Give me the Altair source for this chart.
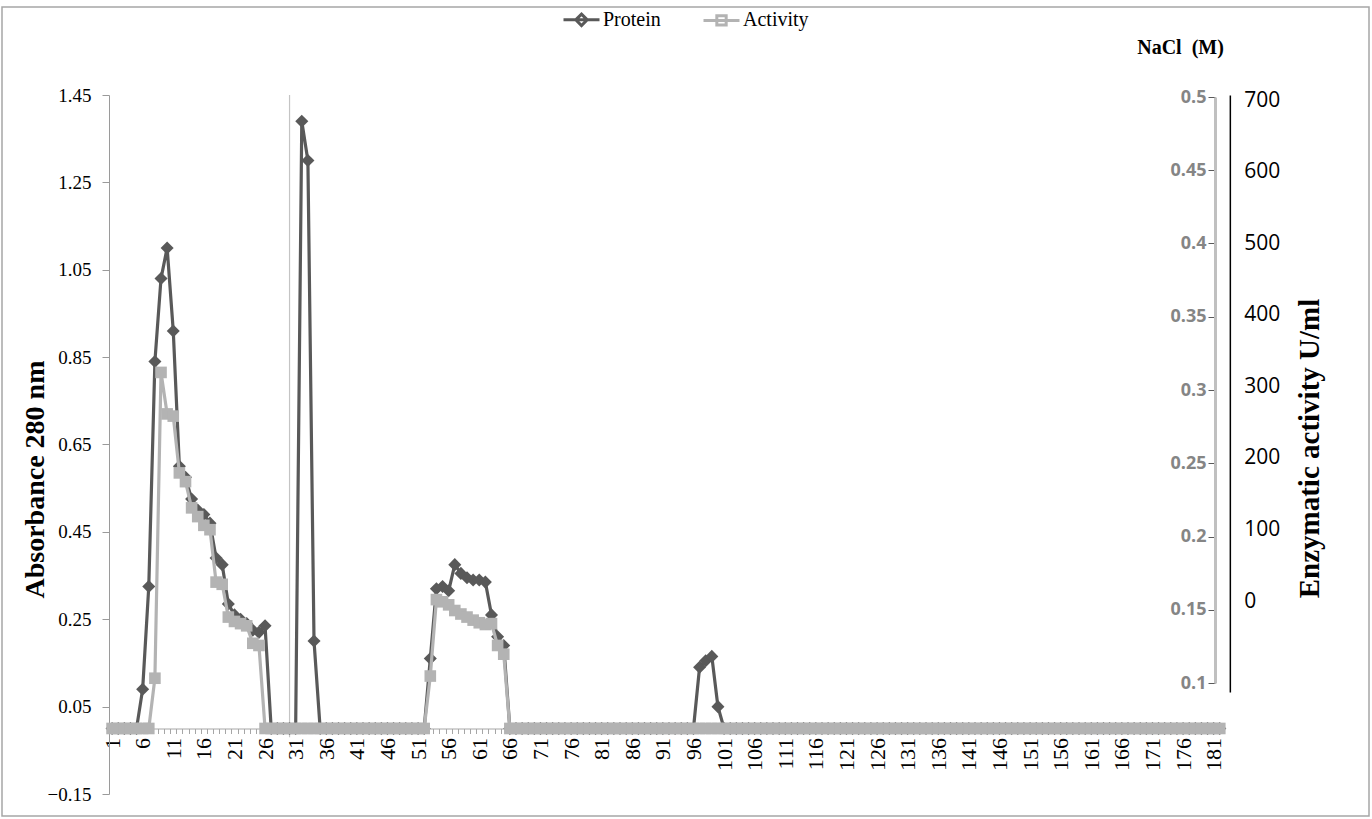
import altair as alt
import pandas as pd

# ---------------- data ----------------
N = 182
fractions = list(range(1, N + 1))
label_fractions = list(range(1, N + 1, 5))

protein = ([0] * 5
           + [0.09, 0.325, 0.84, 1.03, 1.10, 0.91, 0.60, 0.575, 0.525, 0.50, 0.49, 0.47,
              0.39, 0.375, 0.285, 0.26, 0.25, 0.24, 0.225, 0.22, 0.235]          # 6..26
           + [0] * 5                                                             # 27..31
           + [1.39, 1.30, 0.20]                                                  # 32..34
           + [0] * 18                                                            # 35..52
           + [0.16, 0.32, 0.325, 0.315, 0.375, 0.355, 0.345, 0.34, 0.34, 0.335,
              0.26, 0.21, 0.19]                                                  # 53..65
           + [0] * 31                                                            # 66..96
           + [0.14, 0.155, 0.165, 0.05]                                          # 97..100
           + [0] * 82)                                                           # 101..182

activity = ([0] * 7
            + [0.115, 0.815, 0.72, 0.715, 0.585, 0.565, 0.505, 0.485, 0.465, 0.455,
               0.335, 0.33, 0.255, 0.245, 0.24, 0.235, 0.195, 0.19]              # 8..25
            + [0] * 27                                                           # 26..52
            + [0.12, 0.295, 0.29, 0.283, 0.27, 0.262, 0.255, 0.248, 0.242, 0.238,
               0.24, 0.19, 0.17]                                                 # 53..65
            + [0] * 117)                                                         # 66..182

series_names = ["Protein", "Activity"]
series_colors = ["#595959", "#b3b3b3"]
left_ticks = [-0.15, 0.05, 0.25, 0.45, 0.65, 0.85, 1.05, 1.25, 1.45]
nacl_ticks = [0.1, 0.15, 0.2, 0.25, 0.3, 0.35, 0.4, 0.45, 0.5]
activity_ticks = [0, 100, 200, 300, 400, 500, 600, 700]
gradient_start = [30]

df = pd.DataFrame({
    "fraction": fractions * 2,
    "value": protein + activity,
    "series": ["Protein"] * N + ["Activity"] * N,
})

# ---------------- layout ----------------
STEP = 6.12
W = N * STEP
H = 699
PAD_L, PAD_T = 109, 95
X_DOMAIN = [0.5, N + 0.5]
tick_edges = [k + 0.5 for k in range(0, N + 1)]   # category boundaries (tick marks)

serif = "Liberation Serif"
sans = "Open Sans"
grid_c = "#9a9a9a"
AX_OFF = -65.5

x_axis = alt.Axis(
    values=label_fractions, tickCount=500, format="d", labelAngle=270, offset=AX_OFF,
    grid=False, ticks=False, domain=False,
    labelFont=serif, labelFontSize=22, labelColor="black", labelPadding=9,
    labelOverlap=False, labelBound=False, labelFlush=False, title=None,
)
y_axis = alt.Axis(
    values=left_ticks, format=".2f",
    title="Absorbance 280 nm", titleAngle=270, titleX=-74, titleY=384,
    titleAlign="center", titleBaseline="middle", titleFont=serif,
    titleFontSize=28, titleFontWeight="bold", titleColor="black",
    labelFont=serif, labelFontSize=19, labelColor="black", labelPadding=11,
    tickSize=7, tickColor=grid_c, domainColor=grid_c, gridColor=grid_c, gridWidth=1.2,
)

xs = alt.X("fraction:Q", scale=alt.Scale(domain=X_DOMAIN, nice=False, zero=False), axis=x_axis)
ys = alt.Y("value:Q", scale=alt.Scale(domain=[-0.15, 1.45], nice=False, zero=False), axis=y_axis)

base = alt.Chart(df).encode(x=xs, y=ys)

p_line = base.transform_filter(alt.datum.series == "Protein").mark_line(
    color=series_colors[0], strokeWidth=3.2)
p_pts = base.transform_filter(alt.datum.series == "Protein").mark_point(
    shape="diamond", filled=True, size=170, opacity=1, color=series_colors[0])
a_line = base.transform_filter(alt.datum.series == "Activity").mark_line(
    color=series_colors[1], strokeWidth=3.2)
a_pts = base.transform_filter(alt.datum.series == "Activity").mark_point(
    shape="square", filled=True, size=135, opacity=1, color=series_colors[1])

protein_sym = "M-1,0H1M0,-0.32L0.32,0L0,0.32L-0.32,0Z"
activity_sym = "M-1,0H1M-0.26,-0.26H0.26V0.26H-0.26Z"

cscale = alt.Scale(domain=series_names, range=series_colors)
legend_layer = base.mark_point(filled=True, opacity=0, strokeWidth=3).encode(
    color=alt.Color("series:N", scale=cscale, legend=alt.Legend(
        title=None, orient="none", legendX=453, legendY=-95, direction="horizontal",
        symbolSize=1296, symbolStrokeWidth=3, symbolOpacity=1,
        labelFont=serif, labelFontSize=20, labelColor="black",
        columnPadding=36, labelOffset=2)),
    stroke=alt.Stroke("series:N", scale=cscale),
    shape=alt.Shape("series:N", scale=alt.Scale(domain=series_names,
                                                range=[protein_sym, activity_sym])),
)

vline = alt.Chart(pd.DataFrame({"fraction": gradient_start})).mark_rule(
    color="#c4c4c4", strokeWidth=1.2).encode(
    x="fraction:Q", y=alt.datum(1.45), y2=alt.datum(-0.02))

frame = alt.Chart(pd.DataFrame({"a": [0]})).mark_rect(
    fill="transparent", stroke="#a6a6a6", strokeWidth=1.5).encode(
    x=alt.value(2 - PAD_L), x2=alt.value(1369 - PAD_L),
    y=alt.value(7 - PAD_T), y2=alt.value(816 - PAD_T))

main = alt.layer(frame, vline, p_line, p_pts, a_line, a_pts, legend_layer)

# category tick marks along the zero line (Excel-style, between categories)
ticks_layer = alt.Chart(pd.DataFrame({"edge": tick_edges})).mark_point(opacity=0).encode(
    x=alt.X("edge:Q", scale=alt.Scale(domain=X_DOMAIN, nice=False, zero=False),
            axis=alt.Axis(orient="bottom", offset=AX_OFF, values=tick_edges, tickCount=1000,
                          labels=False, tickSize=5, tickColor="#a6a6a6",
                          domainColor="#a6a6a6", grid=False, title=None)))

nacl = alt.Chart(pd.DataFrame({"nacl": nacl_ticks})).mark_point(opacity=0).encode(
    y=alt.Y("nacl:Q",
            scale=alt.Scale(domain=[0.1, 0.5], range=[588, 2], nice=False, zero=False),
            axis=alt.Axis(orient="left", offset=-1106, values=nacl_ticks, tickCount=50,
                          format=".2~f",
                          title="NaCl\u00a0 (M)", titleAngle=0, titleX=-35, titleY=-48,
                          titleAlign="center", titleBaseline="middle",
                          titleFont=serif, titleFontSize=20, titleFontWeight="bold",
                          titleColor="black",
                          labelFont=sans, labelFontSize=18, labelFontWeight="bold",
                          labelColor="#858585", tickColor="#595959", tickSize=7,
                          domainColor="#c0c0c0", domainWidth=3, grid=False, labelPadding=2)))

act = alt.Chart(pd.DataFrame({"act": activity_ticks})).mark_point(opacity=0).encode(
    y=alt.Y("act:Q",
            scale=alt.Scale(domain=[-127, 707], range=[597, 0], nice=False, zero=False),
            axis=alt.Axis(orient="right", offset=7, values=activity_ticks, tickCount=50,
                          format="d",
                          title="Enzymatic activity U/ml", titleAngle=270,
                          titleX=80, titleY=353, titleAlign="center", titleBaseline="middle",
                          titleFont=serif, titleFontSize=29, titleFontWeight="bold",
                          titleColor="black",
                          labelFont=sans, labelFontSize=21, labelColor="black",
                          domainColor="black", domainWidth=1.5, tickSize=0,
                          labelPadding=14, grid=False)))

chart = alt.layer(main, ticks_layer, nacl, act).resolve_scale(
    x="independent", y="independent").properties(
    width=W, height=H,
    padding={"left": PAD_L, "top": PAD_T, "right": 1372 - PAD_L - W, "bottom": 819 - PAD_T - H},
    autosize="none",
    background="white",
).configure_view(stroke=None)

chart.save("out.html", embed_options={"renderer": "svg", "actions": False})
